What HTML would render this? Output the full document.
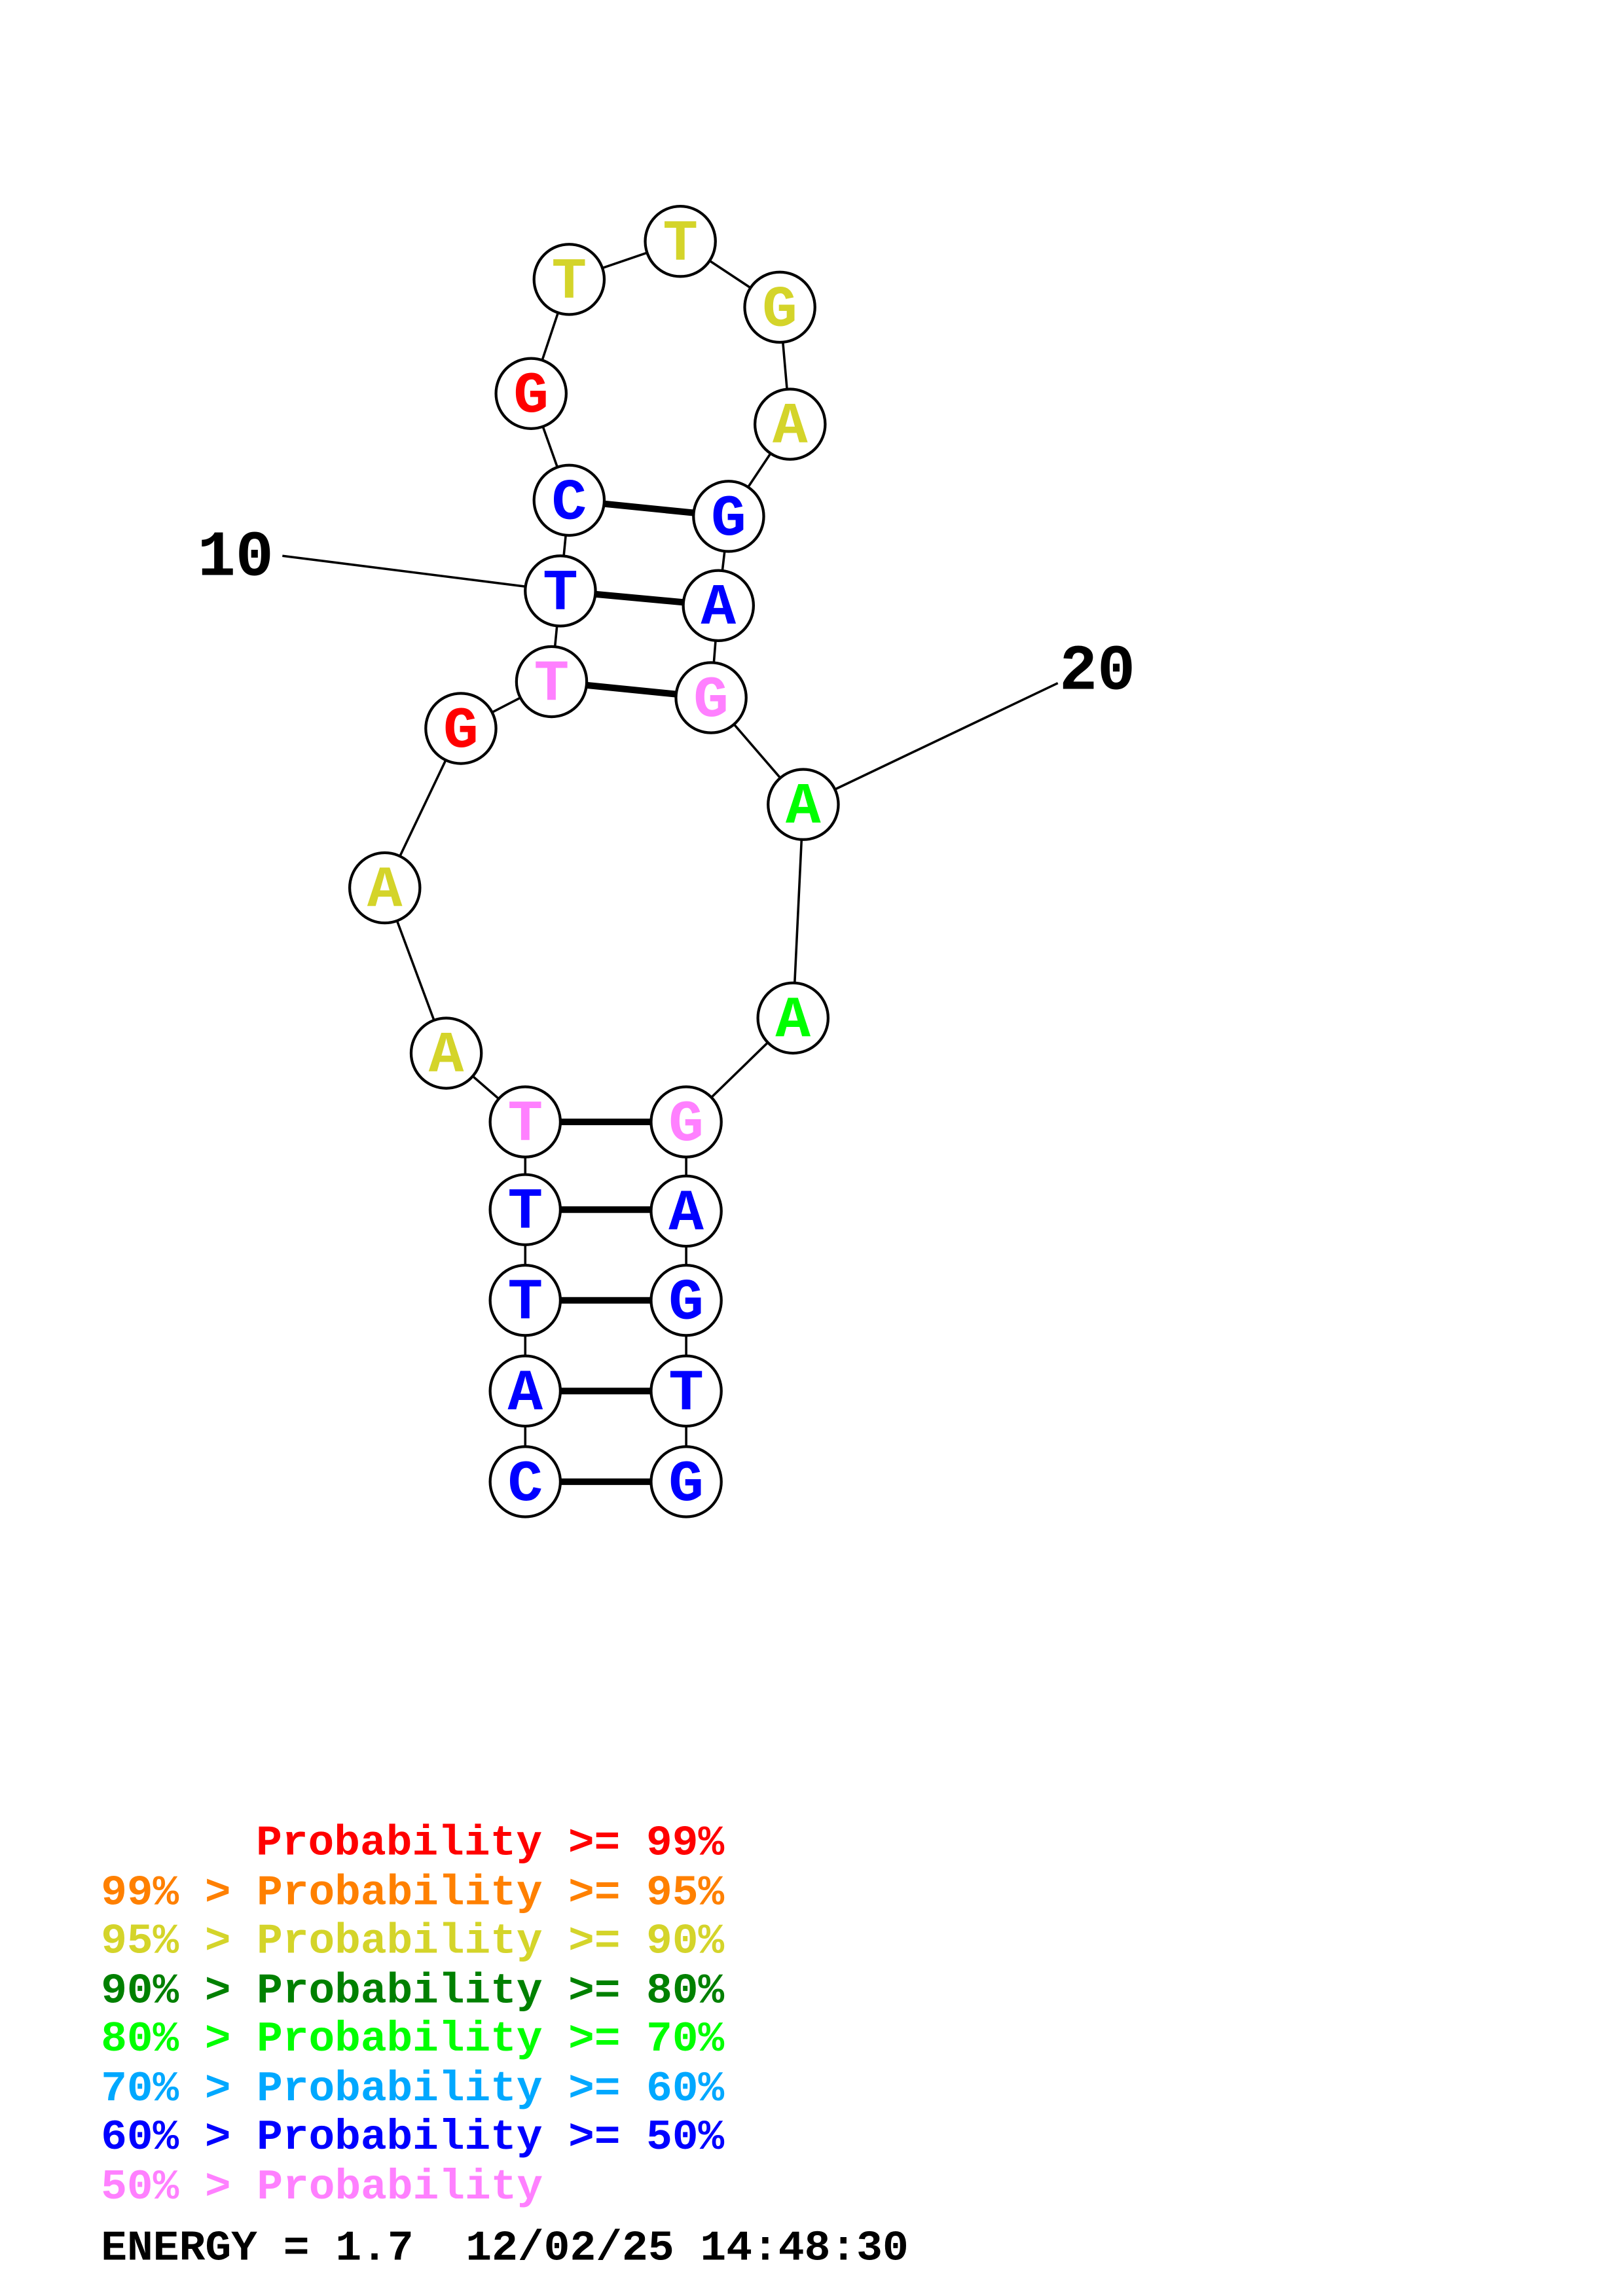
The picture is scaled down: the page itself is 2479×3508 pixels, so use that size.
<!DOCTYPE html>
<html><head><meta charset="utf-8"><style>
html,body{margin:0;padding:0;background:#fff;}
svg{display:block;}
text{font-family:"Liberation Mono",monospace;font-weight:bold;}
</style></head><body>
<svg width="2479" height="3508" viewBox="-1 -1 1109.3 1569.7" xmlns="http://www.w3.org/2000/svg">
<rect x="-5" y="-5" width="1120" height="1580" fill="#fff"/>
<g stroke="#000" stroke-width="1.6" fill="none">
<polyline points="358,1012 358,950 358,888 358,826 358,766 304,719 262,606 314,497 376,465 382,403 388,341 362,268 388,190 464,164 532,209 539,289 497,352 490,413 485,476 548,549 541,695 468,766 468,827 468,888 468,950 468,1012"/>
<line x1="192" y1="379" x2="382" y2="403"/>
<line x1="722" y1="466" x2="548" y2="549"/>
</g>
<g stroke="#000" stroke-width="4.5">
<line x1="358" y1="1012" x2="468" y2="1012"/>
<line x1="358" y1="950" x2="468" y2="950"/>
<line x1="358" y1="888" x2="468" y2="888"/>
<line x1="358" y1="826" x2="468" y2="826"/>
<line x1="358" y1="766" x2="468" y2="766"/>
<line x1="376" y1="465" x2="485" y2="476"/>
<line x1="382" y1="403" x2="490" y2="413"/>
<line x1="388" y1="341" x2="497" y2="352"/>
</g>
<g stroke="#000" stroke-width="1.9" fill="#fff">
<circle cx="358" cy="1012" r="24"/><circle cx="358" cy="950" r="24"/><circle cx="358" cy="888" r="24"/><circle cx="358" cy="826" r="24"/><circle cx="358" cy="766" r="24"/>
<circle cx="304" cy="719" r="24"/><circle cx="262" cy="606" r="24"/><circle cx="314" cy="497" r="24"/><circle cx="376" cy="465" r="24"/><circle cx="382" cy="403" r="24"/>
<circle cx="388" cy="341" r="24"/><circle cx="362" cy="268" r="24"/><circle cx="388" cy="190" r="24"/><circle cx="464" cy="164" r="24"/><circle cx="532" cy="209" r="24"/>
<circle cx="539" cy="289" r="24"/><circle cx="497" cy="352" r="24"/><circle cx="490" cy="413" r="24"/><circle cx="485" cy="476" r="24"/><circle cx="548" cy="549" r="24"/>
<circle cx="541" cy="695" r="24"/><circle cx="468" cy="766" r="24"/><circle cx="468" cy="827" r="24"/><circle cx="468" cy="888" r="24"/><circle cx="468" cy="950" r="24"/><circle cx="468" cy="1012" r="24"/>
</g>
<g font-size="40" text-anchor="middle" dominant-baseline="central">
<text x="358" y="1014" fill="#0000ff">C</text>
<text x="358" y="952" fill="#0000ff">A</text>
<text x="358" y="890" fill="#0000ff">T</text>
<text x="358" y="828" fill="#0000ff">T</text>
<text x="358" y="768" fill="#ff80ff">T</text>
<text x="304" y="721" fill="#d4d42a">A</text>
<text x="262" y="608" fill="#d4d42a">A</text>
<text x="314" y="499" fill="#ff0000">G</text>
<text x="376" y="467" fill="#ff80ff">T</text>
<text x="382" y="405" fill="#0000ff">T</text>
<text x="388" y="343" fill="#0000ff">C</text>
<text x="362" y="270" fill="#ff0000">G</text>
<text x="388" y="192" fill="#d4d42a">T</text>
<text x="464" y="166" fill="#d4d42a">T</text>
<text x="532" y="211" fill="#d4d42a">G</text>
<text x="539" y="291" fill="#d4d42a">A</text>
<text x="497" y="354" fill="#0000ff">G</text>
<text x="490" y="415" fill="#0000ff">A</text>
<text x="485" y="478" fill="#ff80ff">G</text>
<text x="548" y="551" fill="#00ff00">A</text>
<text x="541" y="697" fill="#00ff00">A</text>
<text x="468" y="768" fill="#ff80ff">G</text>
<text x="468" y="829" fill="#0000ff">A</text>
<text x="468" y="890" fill="#0000ff">G</text>
<text x="468" y="952" fill="#0000ff">T</text>
<text x="468" y="1014" fill="#0000ff">G</text>
</g>
<text x="134" y="392" font-size="44" textLength="52" lengthAdjust="spacingAndGlyphs">10</text>
<text x="723" y="470" font-size="44" textLength="52" lengthAdjust="spacingAndGlyphs">20</text>
<g font-size="29">
<text x="174" y="1267" fill="#ff0000" textLength="320" lengthAdjust="spacingAndGlyphs">Probability &gt;= 99%</text>
<text x="68" y="1301" fill="#ff8000" textLength="426" lengthAdjust="spacingAndGlyphs">99% &gt; Probability &gt;= 95%</text>
<text x="68" y="1334" fill="#d4d42a" textLength="426" lengthAdjust="spacingAndGlyphs">95% &gt; Probability &gt;= 90%</text>
<text x="68" y="1368" fill="#008000" textLength="426" lengthAdjust="spacingAndGlyphs">90% &gt; Probability &gt;= 80%</text>
<text x="68" y="1401" fill="#00ff00" textLength="426" lengthAdjust="spacingAndGlyphs">80% &gt; Probability &gt;= 70%</text>
<text x="68" y="1435" fill="#00a8ff" textLength="426" lengthAdjust="spacingAndGlyphs">70% &gt; Probability &gt;= 60%</text>
<text x="68" y="1468" fill="#0000ff" textLength="426" lengthAdjust="spacingAndGlyphs">60% &gt; Probability &gt;= 50%</text>
<text x="68" y="1502" fill="#ff80ff" textLength="302" lengthAdjust="spacingAndGlyphs">50% &gt; Probability</text>
<text x="68" y="1544" fill="#000" textLength="552" lengthAdjust="spacingAndGlyphs">ENERGY = 1.7&#160; 12/02/25 14:48:30</text>
</g>
</svg>
</body></html>
